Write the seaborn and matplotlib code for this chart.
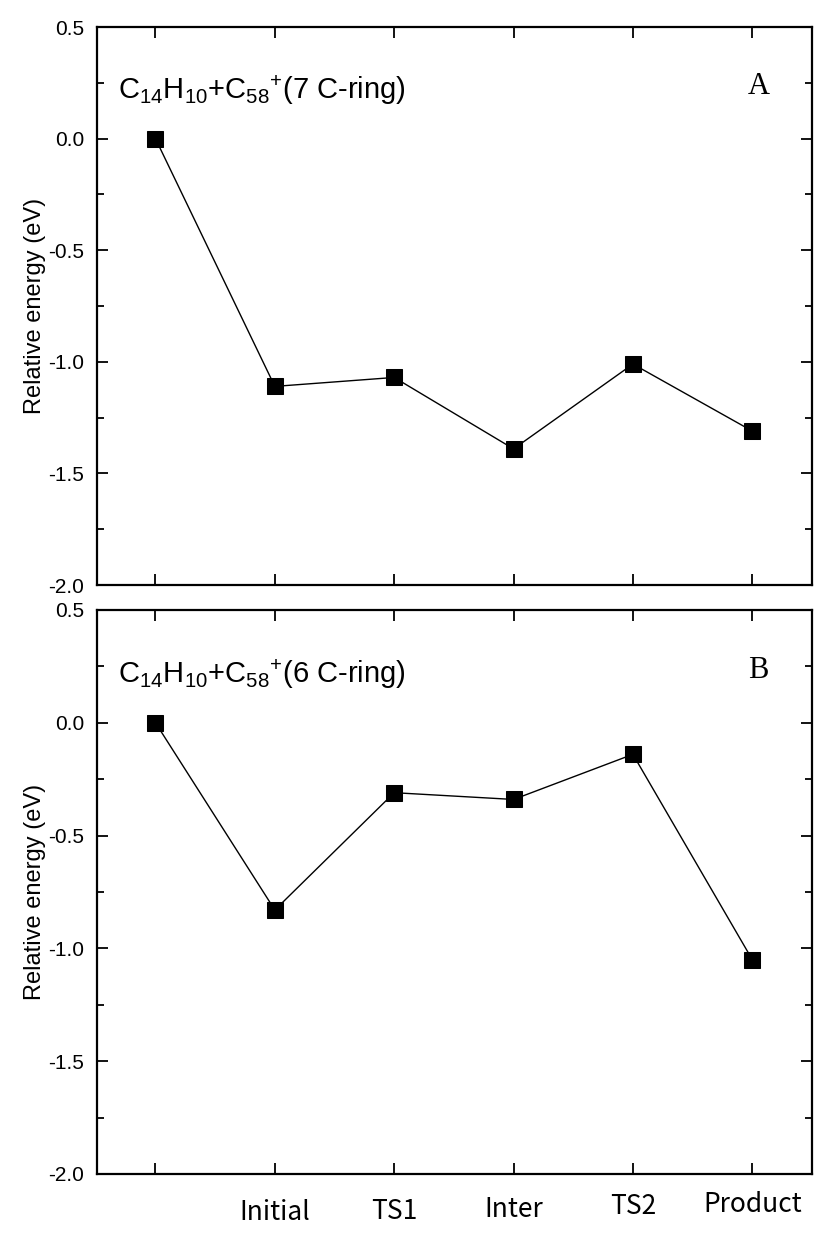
import numpy as np
import pandas as pd
import matplotlib
matplotlib.use("Agg")
import matplotlib.pyplot as plt
import matplotlib.transforms as mtransforms
import seaborn as sns

# reaction path stages (first one is the separated reactants, left unlabeled)
stages = ["", "Initial", "TS1", "Inter", "TS2", "Product"]
energy_7ring = [0.0, -1.11, -1.07, -1.39, -1.01, -1.31]
energy_6ring = [0.0, -0.83, -0.31, -0.34, -0.14, -1.05]
y_ticks = [0.5, 0.0, -0.5, -1.0, -1.5, -2.0]

title_7 = r"C$_{14}$H$_{10}$+C$_{58}$$^{+}$(7 C-ring)"
title_6 = r"C$_{14}$H$_{10}$+C$_{58}$$^{+}$(6 C-ring)"

sns.set_style("ticks")
plt.rcParams["font.family"] = ["Liberation Sans", "DejaVu Sans"]
plt.rcParams["mathtext.fontset"] = "custom"
plt.rcParams["mathtext.rm"] = "Liberation Sans"
plt.rcParams["mathtext.it"] = "Liberation Sans"
plt.rcParams["text.color"] = "black"
plt.rcParams["axes.labelcolor"] = "black"
plt.rcParams["xtick.color"] = "black"
plt.rcParams["ytick.color"] = "black"
plt.rcParams["axes.edgecolor"] = "black"

fig = plt.figure(figsize=(8.31, 12.33), dpi=100)
ax_a = fig.add_axes([0.1167, 0.5255, 0.8604, 0.4526])
ax_b = fig.add_axes([0.1167, 0.0479, 0.8604, 0.4574])


def draw_panel(ax, energies, title, letter):
    df = pd.DataFrame({"pos": np.arange(len(stages)), "E": energies})
    sns.lineplot(data=df, x="pos", y="E", ax=ax, color="black", lw=1.0,
                 marker="s", markersize=11, markeredgecolor="black",
                 markerfacecolor="black")
    ax.set_xlim(-0.49, 5.5)
    ax.set_ylim(-2.0, 0.5)
    ax.set_yticks(y_ticks)
    ax.set_yticklabels([f"{v:.1f}" for v in y_ticks])
    ax.set_yticks(np.arange(-1.75, 0.5, 0.5), minor=True)
    ax.set_xticks(np.arange(len(stages)))
    ax.tick_params(axis="both", which="major", direction="in", length=8,
                   width=1.3, top=True, right=True, pad=9)
    ax.tick_params(axis="y", which="major", labelsize=15)
    ax.tick_params(axis="y", which="minor", direction="in", length=5,
                   width=1.3, right=True)
    for s in ax.spines.values():
        s.set_linewidth(1.6)
        s.set_visible(True)
    ax.set_ylabel("Relative energy (eV)", fontsize=17, labelpad=2)
    ax.set_xlabel("")
    ax.text(0.029, 0.887, title, transform=ax.transAxes, fontsize=21,
            ha="left", va="center")
    ax.text(0.925, 0.893, letter, transform=ax.transAxes, fontsize=22,
            ha="center", va="center", family="Liberation Serif")


draw_panel(ax_a, energy_7ring, title_7, "A")
draw_panel(ax_b, energy_6ring, title_6, "B")

ax_a.set_xticklabels([])
ax_b.set_xticklabels(stages, fontsize=19, family=["Noto Sans CJK SC", "DejaVu Sans"])
ax_b.tick_params(axis="x", pad=18)

# the stage names sit slightly staggered in the original
lifts = [0, 0, 1, 3, 6, 8]
for lab, d in zip(ax_b.get_xticklabels(), lifts):
    off = mtransforms.ScaledTranslation(0, d / 100, fig.dpi_scale_trans)
    lab.set_transform(lab.get_transform() + off)

fig.savefig("out.png", dpi=100)
